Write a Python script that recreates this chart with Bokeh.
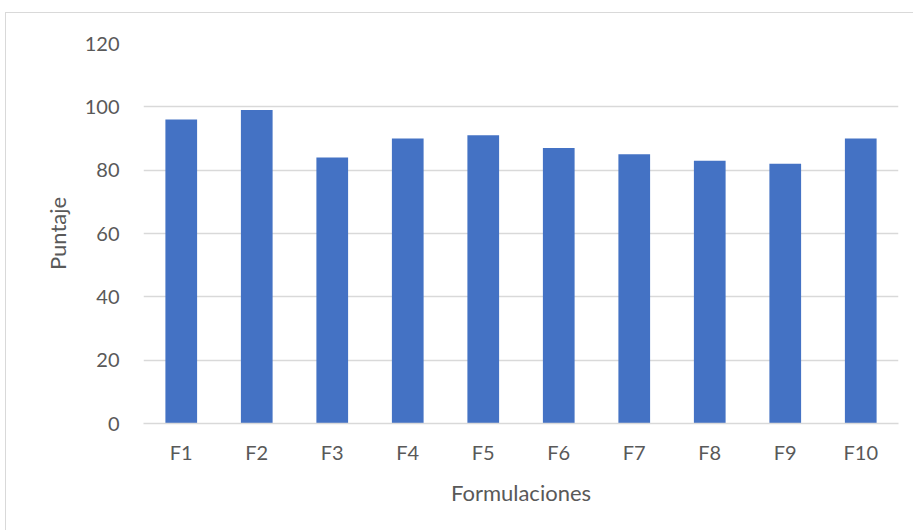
from bokeh.plotting import figure
from bokeh.models import Range1d, FactorRange, SingleIntervalTicker
from bokeh.embed import file_html
from bokeh.resources import INLINE

categories = ["F1", "F2", "F3", "F4", "F5", "F6", "F7", "F8", "F9", "F10"]
puntaje = [96, 99, 84, 90, 91, 87, 85, 83, 82, 90]

FONT = "Lato"
TXT = "#595959"
GRID = "#d9d9d9"

p = figure(
    width=908, height=518,
    x_range=FactorRange(*categories, range_padding=0),
    y_range=Range1d(0, 120),
    output_backend="svg", toolbar_location=None,
    min_border_left=137, min_border_right=16,
    min_border_top=30, min_border_bottom=108,
    margin=(12, 0, 0, 5),
    styles={"border-left": f"1px solid {GRID}", "border-top": f"1px solid {GRID}"},
)
p.outline_line_color = None
p.background_fill_color = "white"
p.border_fill_color = "white"

p.vbar(x=categories, top=puntaje, width=0.42, color="#4472C4", line_color=None)

p.xgrid.grid_line_color = None
p.ygrid.grid_line_color = GRID
p.ygrid.grid_line_width = 1.3
p.yaxis.ticker = SingleIntervalTicker(interval=20)

for ax in (p.xaxis, p.yaxis):
    ax.major_tick_line_color = None
    ax.minor_tick_line_color = None
    ax.major_label_text_font = FONT
    ax.major_label_text_font_size = "20px"
    ax.major_label_text_color = TXT
    ax.axis_label_text_font = FONT
    ax.axis_label_text_font_size = "22px"
    ax.axis_label_text_color = TXT
    ax.axis_label_text_font_style = "normal"

p.xaxis.axis_line_color = GRID
p.xaxis.axis_line_width = 1.3
p.yaxis.axis_line_color = None
p.xaxis.major_label_standoff = 10
p.yaxis.major_label_standoff = 18
p.xaxis.axis_label = "Formulaciones"
p.yaxis.axis_label = "Puntaje"
p.xaxis.axis_label_standoff = 12
p.yaxis.axis_label_standoff = 11

open("out.html", "w").write(file_html(p, INLINE))
